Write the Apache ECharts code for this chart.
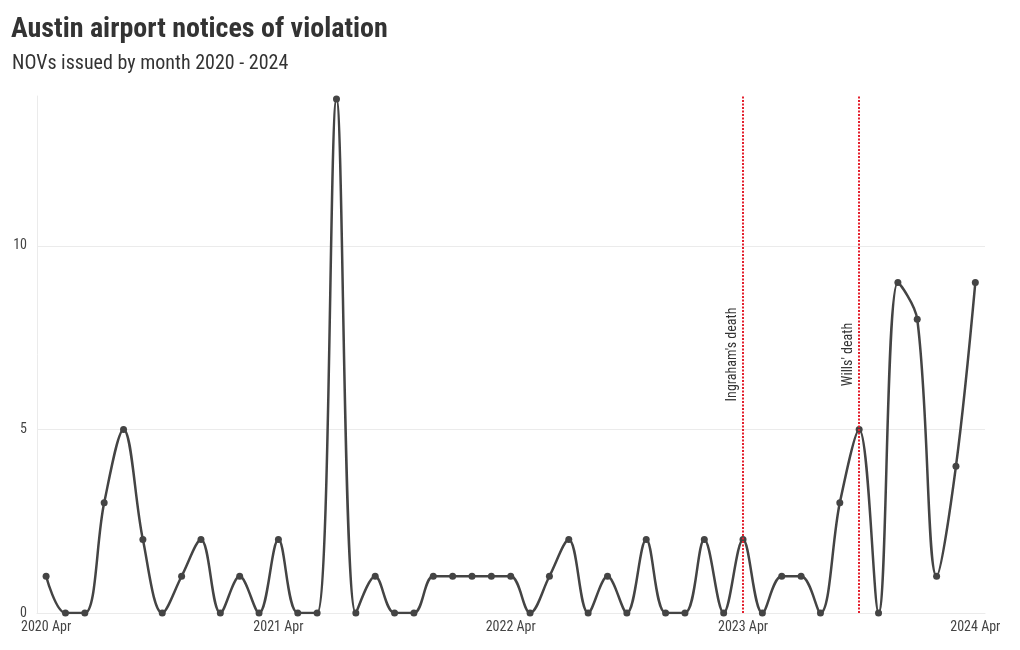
<!DOCTYPE html>
<html>
<head>
<meta charset="utf-8">
<script src="https://cdn.jsdelivr.net/npm/echarts@6/dist/echarts.min.js"></script>
<style>html,body{margin:0;padding:0;background:#fff}#c{width:1020px;height:650px}</style>
</head>
<body>
<div id="c"></div>
<script>
var months = ['2020-04','2020-05','2020-06','2020-07','2020-08','2020-09','2020-10','2020-11','2020-12',
  '2021-01','2021-02','2021-03','2021-04','2021-05','2021-06','2021-07','2021-08','2021-09','2021-10','2021-11','2021-12',
  '2022-01','2022-02','2022-03','2022-04','2022-05','2022-06','2022-07','2022-08','2022-09','2022-10','2022-11','2022-12',
  '2023-01','2023-02','2023-03','2023-04','2023-05','2023-06','2023-07','2023-08','2023-09','2023-10','2023-11','2023-12',
  '2024-01','2024-02','2024-03','2024-04'];
var novs = [1,0,0,3,5,2,0,1,2, 0,1,0,2,0,0,14,0,1,0,0,1, 1,1,1,1,0,1,2,0,1,0,2,0, 0,2,0,2,0,1,1,0,3,5,0,9, 8,1,4,9];
var tickLabels = ['2020 Apr','2021 Apr','2022 Apr','2023 Apr','2024 Apr'];
var tickMonths = ['2020-04','2021-04','2022-04','2023-04','2024-04'];
var yTicks = [0,5,10];
var events = [{month:'2023-04', label:"Ingraham's death"},{month:'2023-10', label:"Wills' death"}];

var FONT = "'Roboto Condensed','Liberation Sans Narrow','Roboto',sans-serif";
var data = novs.map(function(v,i){return [i,v];});
var tickIdx = tickMonths.map(function(m){return months.indexOf(m);});
var chart = echarts.init(document.getElementById('c'));
chart.setOption({
  animation:false,
  title:[{text:'Austin airport notices of violation', left:6, top:11,
    textStyle:{fontFamily:FONT, fontWeight:'bold', fontSize:28, color:'#333'}},
    {text:'NOVs issued by month 2020 - 2024', left:7, top:49,
    textStyle:{fontFamily:FONT, fontWeight:'normal', fontSize:20, color:'#333'}}],
  grid:{left:37, right:35, top:96, bottom:37},
  xAxis:{type:'value', min:-0.47, max:48.5,
    axisLine:{show:true, lineStyle:{color:'#ebebeb'}},
    axisTick:{show:false},
    splitLine:{show:false},
    axisLabel:{customValues:tickIdx, formatter:function(v){return tickLabels[tickIdx.indexOf(Math.round(v))]||'';},
      fontFamily:FONT, fontSize:14, color:'#444', margin:7}},
  yAxis:{type:'value', min:0, max:14.08, interval:5,
    axisLine:{show:true, onZero:false, lineStyle:{color:'#ebebeb'}},
    axisTick:{show:false},
    splitLine:{show:true, lineStyle:{color:['#ebebeb','#ebebeb','#ebebeb','#ffffff']}},
    axisLabel:{customValues:yTicks, fontFamily:FONT, fontSize:14, color:'#444', margin:10}},
  series:[{type:'line', data:data, smooth:0.35, symbol:'circle', symbolSize:7,
    lineStyle:{color:'#444', width:2.5}, itemStyle:{color:'#444'},
    markLine:{silent:true, symbol:['none','none'],
      lineStyle:{color:'#e4202e', type:[2,1.5], width:2},
      label:{position:'insideMiddleTop', fontFamily:FONT, fontSize:14, color:'#333', distance:4,
        formatter:function(p){return p.name;}},
      data:events.map(function(e){return {name:e.label, xAxis:months.indexOf(e.month)};})}
  }]
});
</script>
</body>
</html>
